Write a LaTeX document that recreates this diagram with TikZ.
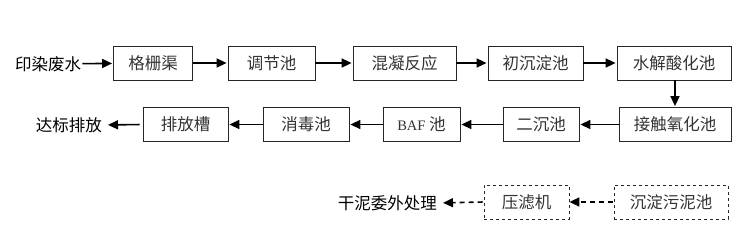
\documentclass[tikz,border=0pt]{standalone}
\usepackage{fontspec}
\setmainfont{Liberation Serif}
\newfontfamily\cjk{Noto Sans CJK SC}[Scale=1]
\usetikzlibrary{arrows.meta}
\begin{document}
\begin{tikzpicture}[x=1pt,y=-1pt,
  box/.style={draw=black!85,line width=0.8pt,minimum height=34pt,inner sep=0pt,font=\cjk\fontsize{16.5}{18}\selectfont,text=black!80},
  dbox/.style={box,dashed},
  lab/.style={font=\cjk\fontsize{16.5}{18}\selectfont,inner sep=0pt,text=black},
  arr/.style={-{Triangle[length=10pt,width=9pt]},line width=1.6pt,black},
  darr/.style={arr,dash pattern=on 5pt off 4pt}]
\useasboundingbox (0,0) rectangle (739,230);
% row 1
\node[lab,anchor=west] (src) at (15,64) {印染废水};
\node[box,minimum width=79pt] (a1) at (153,63) {格栅渠};
\node[box,minimum width=87pt] (a2) at (271.5,63) {调节池};
\node[box,minimum width=103pt] (a3) at (404.5,63) {混凝反应};
\node[box,minimum width=95pt] (a4) at (535.5,63) {初沉淀池};
\node[box,minimum width=114pt] (a5) at (674,63) {水解酸化池};
% row 2
\node[box,minimum width=112pt] (b1) at (675,124.5) {接触氧化池};
\node[box,minimum width=76pt] (b2) at (541,124.5) {二沉池};
\node[box,minimum width=77pt] (b3) at (421.5,124.5) {{\rmfamily\fontsize{14.5}{18}\selectfont BAF} 池};
\node[box,minimum width=86pt] (b4) at (306,124.5) {消毒池};
\node[box,minimum width=85pt] (b5) at (185.5,124.5) {排放槽};
\node[lab,anchor=east] (out) at (102,125) {达标排放};
% row 3
\node[dbox,minimum width=114pt] (c1) at (671,202) {沉淀污泥池};
\node[dbox,minimum width=85pt] (c2) at (526.5,202) {压滤机};
\node[lab,anchor=east] (dry) at (437,203) {干泥委外处理};
% arrows
\draw[arr,shorten <=1pt,shorten >=1pt] (src) -- (a1);
\draw[arr,shorten >=1pt] (a1) -- (a2);
\draw[arr,shorten >=1pt] (a2) -- (a3);
\draw[arr,shorten >=1pt] (a3) -- (a4);
\draw[arr,shorten >=1pt] (a4) -- (a5);
\draw[arr,shorten >=1pt] (a5.south -| b1.north) -- (b1.north);
\draw[arr,shorten >=1pt] (b1) -- (b2);
\draw[arr,shorten >=1pt] (b2) -- (b3);
\draw[arr,shorten >=1pt] (b3) -- (b4);
\draw[arr,shorten >=1pt] (b4) -- (b5);
\draw[arr,shorten <=3pt,shorten >=6pt] (b5.west) -- (out.east);
\draw[darr,shorten <=1pt] (c1) -- (c2);
\draw[darr,shorten <=1pt,shorten >=6pt] (c2.west) -- (dry.east);
\end{tikzpicture}
\end{document}
